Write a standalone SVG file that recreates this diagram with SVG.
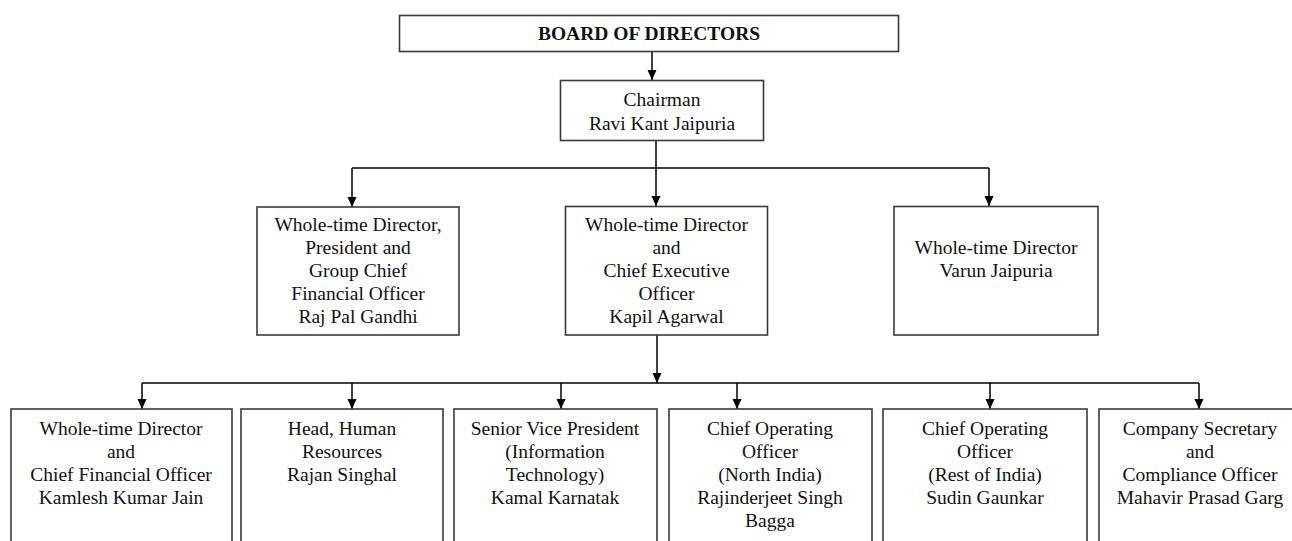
<svg xmlns="http://www.w3.org/2000/svg" width="1292" height="541" viewBox="0 0 1292 541">
  <defs>
    <marker id="arrow" markerUnits="userSpaceOnUse" markerWidth="10" markerHeight="10" refX="10" refY="5" orient="auto">
      <path d="M0,0.5 L10,5 L0,9.5 z" fill="#000"/>
    </marker>
    <style>
      .box { fill: #fff; stroke: #3a3a3a; stroke-width: 1.6; }
      .lbl { font-family: "Liberation Serif", "Times New Roman", serif; font-size: 19.5px; fill: #111; text-anchor: middle; }
      .bold { font-weight: bold; }
      .wire { fill: none; stroke: #000; stroke-width: 1.5; }
      .arr { marker-end: url(#arrow); }
    </style>
  </defs>
  <rect width="1292" height="541" fill="#fff"/>

  <!-- connectors -->
  <g id="connectors">
    <line class="wire arr" x1="652" y1="52" x2="652" y2="80"/>
    <line class="wire" x1="656" y1="141" x2="656" y2="168"/>
    <line class="wire" x1="352" y1="168" x2="989" y2="168"/>
    <line class="wire arr" x1="352" y1="168" x2="352" y2="207"/>
    <line class="wire arr" x1="656" y1="168" x2="656" y2="206"/>
    <line class="wire arr" x1="989" y1="168" x2="989" y2="206"/>
    <line class="wire arr" x1="657" y1="335" x2="657" y2="383"/>
    <line class="wire" x1="142" y1="383" x2="1199" y2="383"/>
    <line class="wire arr" x1="142" y1="383" x2="142" y2="409"/>
    <line class="wire arr" x1="352" y1="383" x2="352" y2="409"/>
    <line class="wire arr" x1="561" y1="383" x2="561" y2="409"/>
    <line class="wire arr" x1="737" y1="383" x2="737" y2="409"/>
    <line class="wire arr" x1="990" y1="383" x2="990" y2="409"/>
    <line class="wire arr" x1="1199" y1="383" x2="1199" y2="409"/>
  </g>

  <g id="board">
    <rect class="box" x="399.5" y="15.5" width="499" height="36"/>
    <text class="lbl bold" x="649" y="40">BOARD OF DIRECTORS</text>
  </g>

  <g id="chairman">
    <rect class="box" x="560.5" y="80.5" width="203" height="60"/>
    <text class="lbl" x="662" y="106">Chairman</text>
    <text class="lbl" x="662" y="129.5">Ravi Kant Jaipuria</text>
  </g>

  <g id="president-gcfo">
    <rect class="box" x="257" y="207" width="202" height="128"/>
    <text class="lbl" x="358" y="231">Whole-time Director,</text>
    <text class="lbl" x="358" y="254">President and</text>
    <text class="lbl" x="358" y="277">Group Chief</text>
    <text class="lbl" x="358" y="300">Financial Officer</text>
    <text class="lbl" x="358" y="323">Raj Pal Gandhi</text>
  </g>

  <g id="ceo">
    <rect class="box" x="565.5" y="206.5" width="202" height="128.5"/>
    <text class="lbl" x="666.5" y="230.5">Whole-time Director</text>
    <text class="lbl" x="666.5" y="253.5">and</text>
    <text class="lbl" x="666.5" y="276.5">Chief Executive</text>
    <text class="lbl" x="666.5" y="299.5">Officer</text>
    <text class="lbl" x="666.5" y="322.5">Kapil Agarwal</text>
  </g>

  <g id="wtd-varun">
    <rect class="box" x="894" y="206.5" width="204" height="128.5"/>
    <text class="lbl" x="996" y="253.5">Whole-time Director</text>
    <text class="lbl" x="996" y="276.5">Varun Jaipuria</text>
  </g>

  <g id="cfo">
    <rect class="box" x="11" y="409" width="221" height="150"/>
    <text class="lbl" x="121" y="434.5">Whole-time Director</text>
    <text class="lbl" x="121" y="457.5">and</text>
    <text class="lbl" x="121" y="480.5">Chief Financial Officer</text>
    <text class="lbl" x="121" y="503.5">Kamlesh Kumar Jain</text>
  </g>

  <g id="hr">
    <rect class="box" x="241" y="409" width="202" height="150"/>
    <text class="lbl" x="342" y="434.5">Head, Human</text>
    <text class="lbl" x="342" y="457.5">Resources</text>
    <text class="lbl" x="342" y="480.5">Rajan Singhal</text>
  </g>

  <g id="svp-it">
    <rect class="box" x="454" y="409" width="203" height="150"/>
    <text class="lbl" x="555" y="434.5">Senior Vice President</text>
    <text class="lbl" x="555" y="457.5">(Information</text>
    <text class="lbl" x="555" y="480.5">Technology)</text>
    <text class="lbl" x="555" y="503.5">Kamal Karnatak</text>
  </g>

  <g id="coo-north">
    <rect class="box" x="669" y="409" width="203" height="150"/>
    <text class="lbl" x="770" y="434.5">Chief Operating</text>
    <text class="lbl" x="770" y="457.5">Officer</text>
    <text class="lbl" x="770" y="480.5">(North India)</text>
    <text class="lbl" x="770" y="503.5">Rajinderjeet Singh</text>
    <text class="lbl" x="770" y="526.5">Bagga</text>
  </g>

  <g id="coo-rest">
    <rect class="box" x="883" y="409" width="204" height="150"/>
    <text class="lbl" x="985" y="434.5">Chief Operating</text>
    <text class="lbl" x="985" y="457.5">Officer</text>
    <text class="lbl" x="985" y="480.5">(Rest of India)</text>
    <text class="lbl" x="985" y="503.5">Sudin Gaunkar</text>
  </g>

  <g id="company-secretary">
    <rect class="box" x="1099" y="409" width="204" height="150"/>
    <text class="lbl" x="1200" y="434.5">Company Secretary</text>
    <text class="lbl" x="1200" y="457.5">and</text>
    <text class="lbl" x="1200" y="480.5">Compliance Officer</text>
    <text class="lbl" x="1200" y="503.5">Mahavir Prasad Garg</text>
  </g>
</svg>
